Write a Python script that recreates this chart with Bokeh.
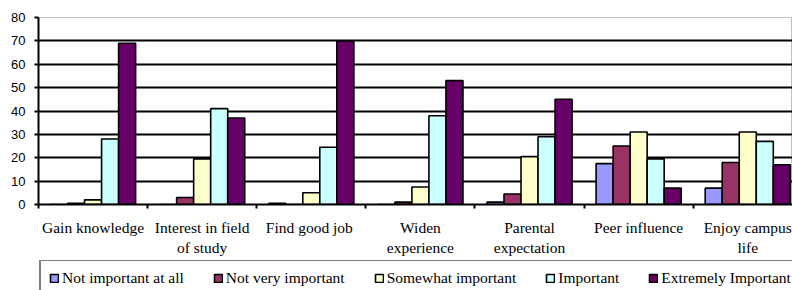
from bokeh.plotting import figure
from bokeh.layouts import column
from bokeh.models import Range1d, FixedTicker, Legend, LegendItem, ColumnDataSource
from bokeh.embed import file_html
from bokeh.resources import INLINE

categories = ["Gain knowledge", "Interest in field\nof study", "Find good  job",
              "Widen\nexperience", "Parental\nexpectation", "Peer influence",
              "Enjoy campus\nlife"]
series_names = ["Not important at all", "Not very important", "Somewhat important",
                "Important", "Extremely Important"]
not_important_at_all = [0, 0, 0.5, 0, 1, 17.5, 7]
not_very_important = [0.5, 3, 0, 1, 4.5, 25, 18]
somewhat_important = [2, 19.5, 5, 7.5, 20.5, 31, 31]
important = [28, 41, 24.5, 38, 29, 19.5, 27]
extremely_important = [69, 37, 70, 53, 45, 7, 17]
series_values = [not_important_at_all, not_very_important, somewhat_important,
                 important, extremely_important]
colors = ["#9999FF", "#993366", "#FFFFCC", "#CCFFFF", "#660066"]
y_ticks = [0, 10, 20, 30, 40, 50, 60, 70, 80]

bar_w = 0.156

p = figure(width=792, height=260, output_backend="svg", toolbar_location=None,
           x_range=Range1d(-0.5, 6.41), y_range=Range1d(0, 80),
           min_border_left=38, min_border_right=0, min_border_top=17,
           min_border_bottom=56, background_fill_color="white",
           border_fill_color="white")

sources = []
for j, (name, vals, col) in enumerate(zip(series_names, series_values, colors)):
    xs = [i + (j - 2) * bar_w for i in range(len(categories))]
    src = ColumnDataSource(dict(x=xs, top=vals))
    sources.append(src)
    p.vbar(x="x", top="top", bottom=0, width=bar_w, source=src,
           fill_color=col, line_color="black", line_width=1.6)

# x axis
xa = p.xaxis[0]
xa.ticker = FixedTicker(ticks=list(range(len(categories))),
                        minor_ticks=[i - 0.5 for i in range(len(categories) + 1)])
xa.major_label_overrides = {i: c for i, c in enumerate(categories)}
xa.major_tick_line_color = None
xa.major_tick_out = 0
xa.major_tick_in = 0
xa.minor_tick_line_color = "black"
xa.minor_tick_line_width = 2
xa.minor_tick_out = 4
xa.minor_tick_in = 0
xa.axis_line_color = "black"
xa.axis_line_width = 2
xa.major_label_text_font = "Liberation Serif"
xa.major_label_text_font_size = "15.5px"
xa.major_label_text_color = "black"
xa.major_label_text_line_height = 1.2
xa.major_label_standoff = 10

# y axis
ya = p.yaxis[0]
ya.ticker = FixedTicker(ticks=y_ticks)
ya.minor_tick_line_color = None
ya.major_tick_out = 4
ya.major_tick_in = 0
ya.major_tick_line_width = 2
ya.major_tick_line_color = "black"
ya.axis_line_color = "black"
ya.axis_line_width = 2
ya.major_label_text_font = "Liberation Sans"
ya.major_label_text_font_size = "13px"
ya.major_label_text_color = "black"
ya.major_label_standoff = 9

p.xgrid.visible = False
p.ygrid.ticker = FixedTicker(ticks=y_ticks[1:-1])
p.ygrid.grid_line_color = "black"
p.ygrid.grid_line_width = 2

p.outline_line_color = "#c0c0c0"
p.outline_line_width = 1

# legend strip (keys share the series data, the bars themselves are hidden here)
lg = figure(width=792, height=30, output_backend="svg", toolbar_location=None,
            x_range=p.x_range, y_range=p.y_range,
            x_axis_type=None, y_axis_type=None, min_border=0,
            min_border_left=38, min_border_right=0,
            background_fill_color="white", border_fill_color="white")
lg.grid.visible = False
lg.outline_line_color = None
items = []
for name, col, src in zip(series_names, colors, sources):
    r = lg.vbar(x="x", top="top", bottom=0, width=bar_w, source=src, fill_color=col,
                line_color="black", line_width=1.6, visible=False)
    items.append(LegendItem(label=name, renderers=[r]))

legend = Legend(items=items, orientation="horizontal", location=(1, -7),
                border_line_color="black", border_line_width=2,
                padding=8, spacing=29, margin=0,
                glyph_width=10, glyph_height=10, label_standoff=3,
                label_height=14,
                label_text_font="Liberation Serif", label_text_font_size="15.5px",
                label_text_color="black",
                background_fill_color="white", background_fill_alpha=1)
lg.add_layout(legend)

layout = column(p, lg, spacing=0)
open("out.html", "w").write(file_html(layout, INLINE))
